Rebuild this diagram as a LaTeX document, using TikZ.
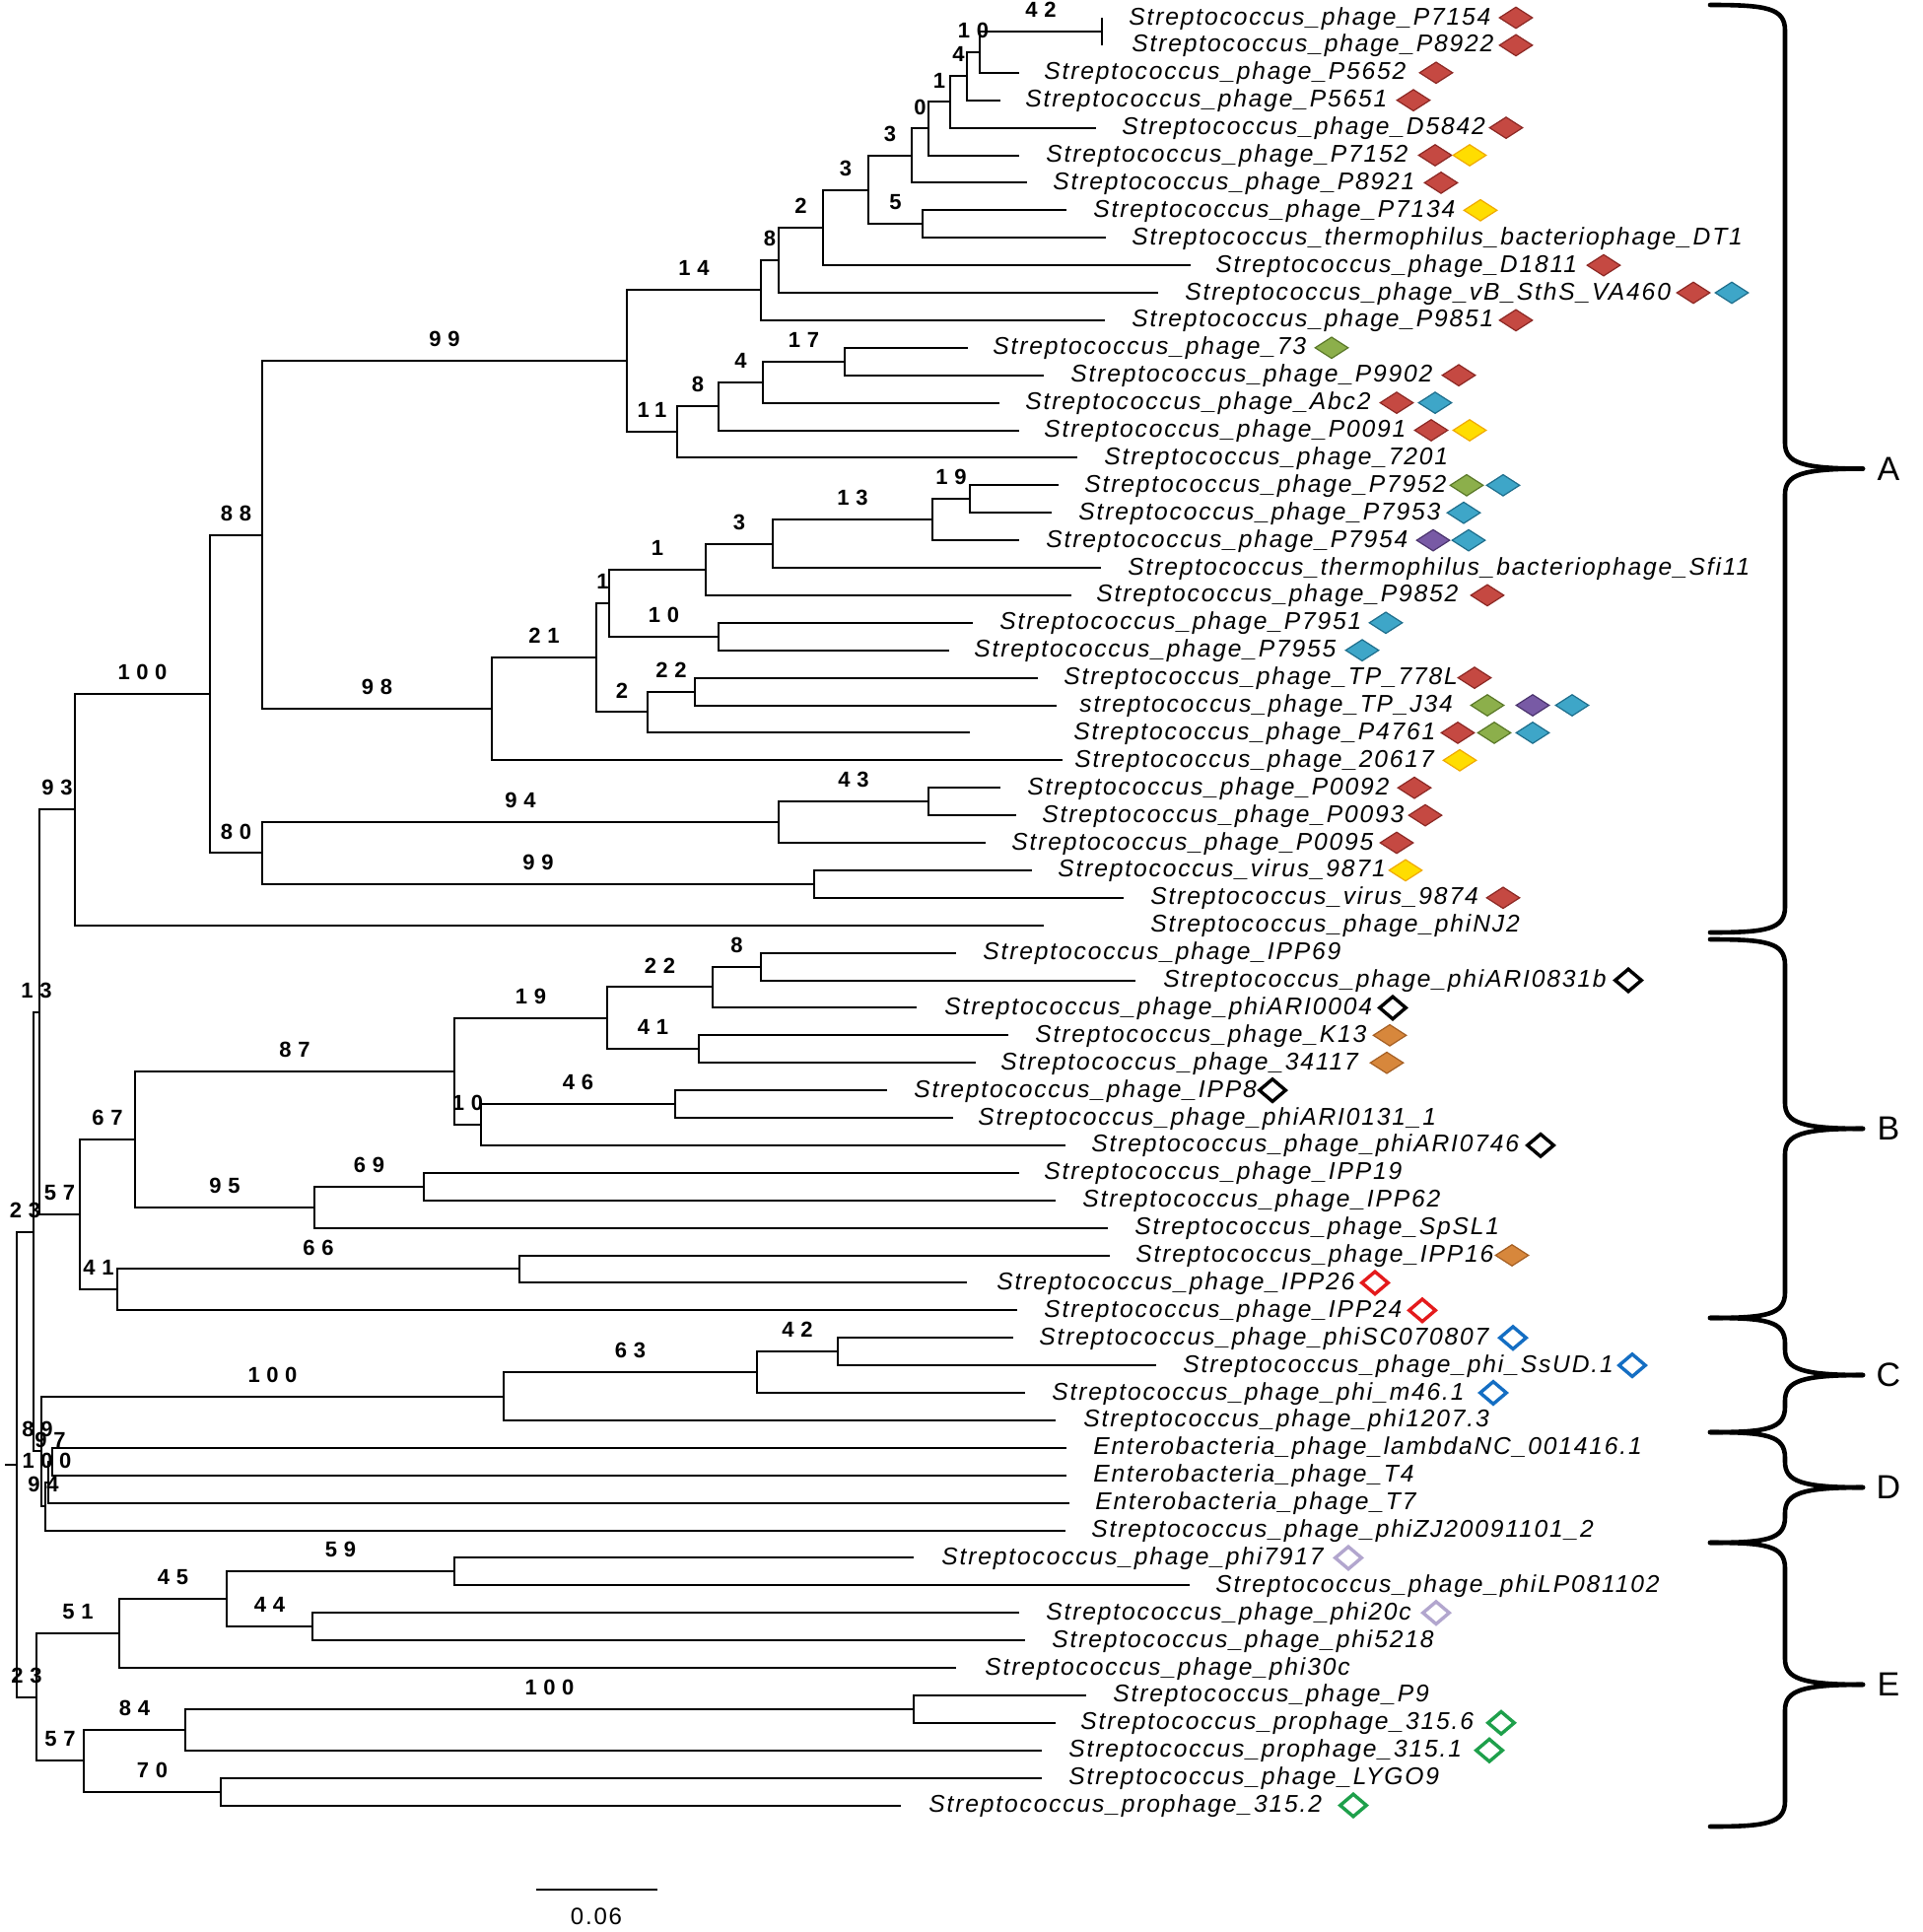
\documentclass[tikz,border=0pt]{standalone}
\usepackage{fontspec}
\setmainfont{Liberation Sans}
\newfontfamily\leaffont{Liberation Sans}[LetterSpace=7.5]
\newfontfamily\bsfont{Liberation Sans}[LetterSpace=30]
\usetikzlibrary{shapes.geometric}
\definecolor{rdF}{RGB}{197,73,66}
\definecolor{rdD}{RGB}{140,40,36}
\definecolor{ylF}{RGB}{255,221,0}
\definecolor{ylD}{RGB}{240,170,0}
\definecolor{blF}{RGB}{62,166,200}
\definecolor{blD}{RGB}{30,110,140}
\definecolor{gnF}{RGB}{140,175,75}
\definecolor{gnD}{RGB}{90,120,40}
\definecolor{ppF}{RGB}{120,90,165}
\definecolor{ppD}{RGB}{75,52,110}
\definecolor{orF}{RGB}{215,135,60}
\definecolor{orD}{RGB}{165,95,35}
\definecolor{oRed}{RGB}{228,26,28}
\definecolor{oBlu}{RGB}{20,110,195}
\definecolor{oLav}{RGB}{178,166,206}
\definecolor{oGrn}{RGB}{30,160,75}
\newcommand\tnode[3]{\coordinate (#1) at (#2,#3);}
\newcommand\tedge[3]{\draw[br] (#1) |- (#2) node[bs,pos=0.75]{#3};}
\newcommand\lfnode[5]{%
  \coordinate (l#1) at (#3,{ly(#1)});
  \draw[br] (#2) |- (l#1);
  \node[lf] (t#1) at (#4,{ly(#1)+7}) {#5};}
\newcommand\dmk[3]{\node[#3] (d#1x#2) at (#2,{ly(#1)}) {};}
\newcommand\cbrace[3]{%
  \pgfmathsetmacro\bym{(#1+#2)/2}
  \coordinate (bt#3) at (1735,#1);
  \coordinate (bb#3) at (1735,#2);
  \coordinate (bp#3) at (1890,\bym);
  \draw[brc] (bt#3) .. controls (1792,#1) and (1811,{#1+3}) .. (1811,{#1+26}) -- (1811,{\bym-26}) .. controls (1811,{\bym-6}) and (1828,\bym) .. (bp#3);
  \draw[brc] (bb#3) .. controls (1792,#2) and (1811,{#2-3}) .. (1811,{#2-26}) -- (1811,{\bym+26}) .. controls (1811,{\bym+6}) and (1828,\bym) .. (bp#3);
  \node[grp] (g#3) at (1916,\bym) {#3};}
\begin{document}
\begin{tikzpicture}[x=0.5pt,y=-0.5pt,
  declare function={ly(\i)=18+27.9*\i;},
  br/.style={line width=1pt},
  brc/.style={line width=2.3pt,line cap=round},
  bs/.style={font=\bsfont\bfseries\fontsize{11}{13}\selectfont,inner sep=0pt,yshift=11pt},
  lf/.style={anchor=base west,inner sep=0pt,font=\leaffont\itshape\fontsize{12.3}{14}\selectfont},
  grp/.style={font=\fontsize{17}{20}\selectfont,inner sep=0pt},
  fdm/.style={diamond,inner sep=0pt,minimum width=17pt,minimum height=11pt,line width=0.6pt},
  dR/.style={fdm,fill=rdF,draw=rdD},
  dY/.style={fdm,fill=ylF,draw=ylD},
  dB/.style={fdm,fill=blF,draw=blD},
  dG/.style={fdm,fill=gnF,draw=gnD},
  dP/.style={fdm,fill=ppF,draw=ppD},
  dO/.style={fdm,fill=orF,draw=orD},
  odm/.style={diamond,inner sep=0pt,minimum width=14pt,minimum height=12pt,line width=1.7pt,fill=white},
  oK/.style={odm,draw=black},
  oR/.style={odm,draw=oRed},
  oB/.style={odm,draw=oBlu},
  oL/.style={odm,draw=oLav},
  oG/.style={odm,draw=oGrn}]
\useasboundingbox (0,0) rectangle (1950,1960);
\fill[white] (0,0) rectangle (1950,1960);
% internal nodes
\tnode{n42}{1118}{31.95}
\tnode{n10}{994}{52.875}
\tnode{n4a}{981}{77.29}
\tnode{n1a}{964}{103.44}
\tnode{n0}{942}{130.47}
\tnode{n3a}{925}{157.94}
\tnode{n5}{936}{227.25}
\tnode{n3b}{881}{192.6}
\tnode{n2a}{835}{230.85}
\tnode{n8a}{790}{263.93}
\tnode{n14}{772}{294.41}
\tnode{n17}{857}{366.75}
\tnode{n4b}{774}{387.68}
\tnode{n8b}{729}{412.09}
\tnode{n11}{687}{438.24}
\tnode{n99}{636}{366.33}
\tnode{n19}{984}{506.25}
\tnode{nA13}{946}{527.18}
\tnode{n3c}{784}{551.59}
\tnode{n1b}{716}{577.74}
\tnode{n10b}{729}{645.75}
\tnode{n1c}{618}{611.75}
\tnode{n22a}{705}{701.55}
\tnode{n2b}{657}{722.48}
\tnode{n21}{605}{667.11}
\tnode{n98}{499}{719.2}
\tnode{n88}{266}{542.77}
\tnode{n43}{942}{813.15}
\tnode{n94}{790}{834.08}
\tnode{n99b}{826}{896.85}
\tnode{n80}{266}{865.47}
\tnode{n100a}{213}{704.12}
\tnode{n93}{76}{821.41}
\tnode{n8c}{772}{980.55}
\tnode{n22b}{723}{1001.48}
\tnode{n41a}{709}{1064.25}
\tnode{n19b}{616}{1032.87}
\tnode{n46}{685}{1120.05}
\tnode{n10c}{488}{1140.98}
\tnode{n87}{461}{1086.93}
\tnode{n69}{430}{1203.75}
\tnode{n95}{319}{1224.68}
\tnode{n67}{137}{1155.8}
\tnode{n66}{527}{1287.45}
\tnode{n41b}{119}{1308.38}
\tnode{n57a}{81}{1232.09}
\tnode{nR13}{40}{1026.75}
\tnode{n42c}{850}{1371.15}
\tnode{n63}{768}{1392.08}
\tnode{n100c}{511}{1416.49}
\tnode{n97}{53}{1482.75}
\tnode{n100d}{49}{1503.68}
\tnode{n94d}{46}{1528.09}
\tnode{n89}{42}{1472.29}
\tnode{n23a}{34}{1249.52}
\tnode{n59}{461}{1594.35}
\tnode{n44}{317}{1650.15}
\tnode{n45}{230}{1622.25}
\tnode{n51}{121}{1657.13}
\tnode{n100e}{927}{1733.85}
\tnode{n84}{188}{1754.78}
\tnode{n70}{224}{1817.55}
\tnode{n57b}{85}{1786.17}
\tnode{n23b}{37}{1721.65}
\tnode{root}{17}{1485.59}
\tnode{rstub}{5}{1485.59}
\draw[br] (rstub) -- (root);
% internal edges
\tedge{n10}{n42}{42}
\tedge{n4a}{n10}{10}
\tedge{n1a}{n4a}{4}
\tedge{n0}{n1a}{1}
\tedge{n3a}{n0}{0}
\tedge{n3b}{n3a}{3}
\tedge{n3b}{n5}{5}
\tedge{n2a}{n3b}{3}
\tedge{n8a}{n2a}{2}
\tedge{n14}{n8a}{8}
\tedge{n99}{n14}{14}
\tedge{n4b}{n17}{17}
\tedge{n8b}{n4b}{4}
\tedge{n11}{n8b}{8}
\tedge{n99}{n11}{11}
\tedge{n88}{n99}{99}
\tedge{nA13}{n19}{19}
\tedge{n3c}{nA13}{13}
\tedge{n1b}{n3c}{3}
\tedge{n1c}{n1b}{1}
\tedge{n1c}{n10b}{10}
\tedge{n21}{n1c}{1}
\tedge{n2b}{n22a}{22}
\tedge{n21}{n2b}{2}
\tedge{n98}{n21}{21}
\tedge{n88}{n98}{98}
\tedge{n100a}{n88}{88}
\tedge{n94}{n43}{43}
\tedge{n80}{n94}{94}
\tedge{n80}{n99b}{99}
\tedge{n100a}{n80}{80}
\tedge{n93}{n100a}{100}
\tedge{nR13}{n93}{93}
\tedge{n22b}{n8c}{8}
\tedge{n19b}{n22b}{22}
\tedge{n19b}{n41a}{41}
\tedge{n87}{n19b}{19}
\tedge{n10c}{n46}{46}
\tedge{n87}{n10c}{10}
\tedge{n67}{n87}{87}
\tedge{n95}{n69}{69}
\tedge{n67}{n95}{95}
\tedge{n57a}{n67}{67}
\tedge{n41b}{n66}{66}
\tedge{n57a}{n41b}{41}
\tedge{nR13}{n57a}{57}
\tedge{n23a}{nR13}{13}
\tedge{n63}{n42c}{42}
\tedge{n100c}{n63}{63}
\tedge{n89}{n100c}{100}
\tedge{n100d}{n97}{97}
\tedge{n94d}{n100d}{100}
\tedge{n89}{n94d}{94}
\tedge{n23a}{n89}{89}
\tedge{root}{n23a}{23}
\tedge{n45}{n59}{59}
\tedge{n45}{n44}{44}
\tedge{n51}{n45}{45}
\tedge{n23b}{n51}{51}
\tedge{n84}{n100e}{100}
\tedge{n57b}{n84}{84}
\tedge{n57b}{n70}{70}
\tedge{n23b}{n57b}{57}
\tedge{root}{n23b}{23}
% leaves
\lfnode{0}{n42}{1118}{1145}{Streptococcus\_phage\_P7154}
\lfnode{1}{n42}{1118}{1148}{Streptococcus\_phage\_P8922}
\lfnode{2}{n10}{1034}{1059}{Streptococcus\_phage\_P5652}
\lfnode{3}{n4a}{1015}{1040}{Streptococcus\_phage\_P5651}
\lfnode{4}{n1a}{1112}{1138}{Streptococcus\_phage\_D5842}
\lfnode{5}{n0}{1034}{1061}{Streptococcus\_phage\_P7152}
\lfnode{6}{n3a}{1042}{1068}{Streptococcus\_phage\_P8921}
\lfnode{7}{n5}{1082}{1109}{Streptococcus\_phage\_P7134}
\lfnode{8}{n5}{1122}{1148}{Streptococcus\_thermophilus\_bacteriophage\_DT1}
\lfnode{9}{n2a}{1208}{1233}{Streptococcus\_phage\_D1811}
\lfnode{10}{n8a}{1175}{1202}{Streptococcus\_phage\_vB\_SthS\_VA460}
\lfnode{11}{n14}{1121}{1148}{Streptococcus\_phage\_P9851}
\lfnode{12}{n17}{982}{1007}{Streptococcus\_phage\_73}
\lfnode{13}{n17}{1059}{1086}{Streptococcus\_phage\_P9902}
\lfnode{14}{n4b}{1014}{1040}{Streptococcus\_phage\_Abc2}
\lfnode{15}{n8b}{1034}{1059}{Streptococcus\_phage\_P0091}
\lfnode{16}{n11}{1093}{1120}{Streptococcus\_phage\_7201}
\lfnode{17}{n19}{1074}{1100}{Streptococcus\_phage\_P7952}
\lfnode{18}{n19}{1067}{1094}{Streptococcus\_phage\_P7953}
\lfnode{19}{nA13}{1034}{1061}{Streptococcus\_phage\_P7954}
\lfnode{20}{n3c}{1117}{1144}{Streptococcus\_thermophilus\_bacteriophage\_Sfi11}
\lfnode{21}{n1b}{1087}{1112}{Streptococcus\_phage\_P9852}
\lfnode{22}{n10b}{987}{1014}{Streptococcus\_phage\_P7951}
\lfnode{23}{n10b}{963}{988}{Streptococcus\_phage\_P7955}
\lfnode{24}{n22a}{1053}{1079}{Streptococcus\_phage\_TP\_778L}
\lfnode{25}{n22a}{1072}{1095}{streptococcus\_phage\_TP\_J34}
\lfnode{26}{n2b}{984}{1089}{Streptococcus\_phage\_P4761}
\lfnode{27}{n98}{1078}{1090}{Streptococcus\_phage\_20617}
\lfnode{28}{n43}{1015}{1042}{Streptococcus\_phage\_P0092}
\lfnode{29}{n43}{1031}{1057}{Streptococcus\_phage\_P0093}
\lfnode{30}{n94}{1000}{1026}{Streptococcus\_phage\_P0095}
\lfnode{31}{n99b}{1047}{1073}{Streptococcus\_virus\_9871}
\lfnode{32}{n99b}{1140}{1167}{Streptococcus\_virus\_9874}
\lfnode{33}{n93}{1059}{1167}{Streptococcus\_phage\_phiNJ2}
\lfnode{34}{n8c}{970}{997}{Streptococcus\_phage\_IPP69}
\lfnode{35}{n8c}{1152}{1180}{Streptococcus\_phage\_phiARI0831b}
\lfnode{36}{n22b}{930}{958}{Streptococcus\_phage\_phiARI0004}
\lfnode{37}{n41a}{1023}{1050}{Streptococcus\_phage\_K13}
\lfnode{38}{n41a}{990}{1015}{Streptococcus\_phage\_34117}
\lfnode{39}{n46}{900}{927}{Streptococcus\_phage\_IPP8}
\lfnode{40}{n46}{967}{992}{Streptococcus\_phage\_phiARI0131\_1}
\lfnode{41}{n10c}{1081}{1107}{Streptococcus\_phage\_phiARI0746}
\lfnode{42}{n69}{1034}{1059}{Streptococcus\_phage\_IPP19}
\lfnode{43}{n69}{1071}{1098}{Streptococcus\_phage\_IPP62}
\lfnode{44}{n95}{1124}{1151}{Streptococcus\_phage\_SpSL1}
\lfnode{45}{n66}{1126}{1152}{Streptococcus\_phage\_IPP16}
\lfnode{46}{n66}{981}{1011}{Streptococcus\_phage\_IPP26}
\lfnode{47}{n41b}{1032}{1059}{Streptococcus\_phage\_IPP24}
\lfnode{48}{n42c}{1028}{1054}{Streptococcus\_phage\_phiSC070807}
\lfnode{49}{n42c}{1173}{1200}{Streptococcus\_phage\_phi\_SsUD.1}
\lfnode{50}{n63}{1040}{1067}{Streptococcus\_phage\_phi\_m46.1}
\lfnode{51}{n100c}{1071}{1099}{Streptococcus\_phage\_phi1207.3}
\lfnode{52}{n97}{1082}{1109}{Enterobacteria\_phage\_lambdaNC\_001416.1}
\lfnode{53}{n97}{1082}{1109}{Enterobacteria\_phage\_T4}
\lfnode{54}{n100d}{1085}{1111}{Enterobacteria\_phage\_T7}
\lfnode{55}{n94d}{1081}{1107}{Streptococcus\_phage\_phiZJ20091101\_2}
\lfnode{56}{n59}{927}{955}{Streptococcus\_phage\_phi7917}
\lfnode{57}{n59}{1207}{1233}{Streptococcus\_phage\_phiLP081102}
\lfnode{58}{n44}{1034}{1061}{Streptococcus\_phage\_phi20c}
\lfnode{59}{n44}{1040}{1067}{Streptococcus\_phage\_phi5218}
\lfnode{60}{n51}{970}{999}{Streptococcus\_phage\_phi30c}
\lfnode{61}{n100e}{1102}{1129}{Streptococcus\_phage\_P9}
\lfnode{62}{n100e}{1071}{1096}{Streptococcus\_prophage\_315.6}
\lfnode{63}{n84}{1057}{1084}{Streptococcus\_prophage\_315.1}
\lfnode{64}{n70}{1057}{1084}{Streptococcus\_phage\_LYGO9}
\lfnode{65}{n70}{914}{942}{Streptococcus\_prophage\_315.2}
% markers
\dmk{0}{1538}{dR}
\dmk{1}{1538}{dR}
\dmk{2}{1457}{dR}
\dmk{3}{1434}{dR}
\dmk{4}{1528}{dR}
\dmk{5}{1456}{dR}\dmk{5}{1491}{dY}
\dmk{6}{1462}{dR}
\dmk{7}{1502}{dY}
\dmk{9}{1627}{dR}
\dmk{10}{1718}{dR}\dmk{10}{1757}{dB}
\dmk{11}{1538}{dR}
\dmk{12}{1351}{dG}
\dmk{13}{1480}{dR}
\dmk{14}{1417}{dR}\dmk{14}{1456}{dB}
\dmk{15}{1452}{dR}\dmk{15}{1491}{dY}
\dmk{17}{1488}{dG}\dmk{17}{1525}{dB}
\dmk{18}{1485}{dB}
\dmk{19}{1454}{dP}\dmk{19}{1490}{dB}
\dmk{21}{1509}{dR}
\dmk{22}{1406}{dB}
\dmk{23}{1382}{dB}
\dmk{24}{1496}{dR}
\dmk{25}{1509}{dG}\dmk{25}{1555}{dP}\dmk{25}{1595}{dB}
\dmk{26}{1479}{dR}\dmk{26}{1516}{dG}\dmk{26}{1555}{dB}
\dmk{27}{1481}{dY}
\dmk{28}{1435}{dR}
\dmk{29}{1446}{dR}
\dmk{30}{1417}{dR}
\dmk{31}{1426}{dY}
\dmk{32}{1525}{dR}
\dmk{35}{1652}{oK}
\dmk{36}{1413}{oK}
\dmk{37}{1410}{dO}
\dmk{38}{1407}{dO}
\dmk{39}{1291}{oK}
\dmk{41}{1563}{oK}
\dmk{45}{1534}{dO}
\dmk{46}{1395}{oR}
\dmk{47}{1443}{oR}
\dmk{48}{1535}{oB}
\dmk{49}{1656}{oB}
\dmk{50}{1515}{oB}
\dmk{56}{1368}{oL}
\dmk{58}{1457}{oL}
\dmk{62}{1523}{oG}
\dmk{63}{1511}{oG}
\dmk{65}{1373}{oG}
% clade braces
\cbrace{5}{946}{A}
\cbrace{953}{1337}{B}
\cbrace{1337}{1453}{C}
\cbrace{1453}{1565}{D}
\cbrace{1565}{1853}{E}
% scale bar
\coordinate (sb1) at (544,1917);
\coordinate (sb2) at (667,1917);
\draw[line width=1.2pt] (sb1) -- (sb2);
\node[font=\leaffont\fontsize{12}{14}\selectfont,inner sep=0pt] (sbl) at (605,1944) {0.06};
\end{tikzpicture}
\end{document}
